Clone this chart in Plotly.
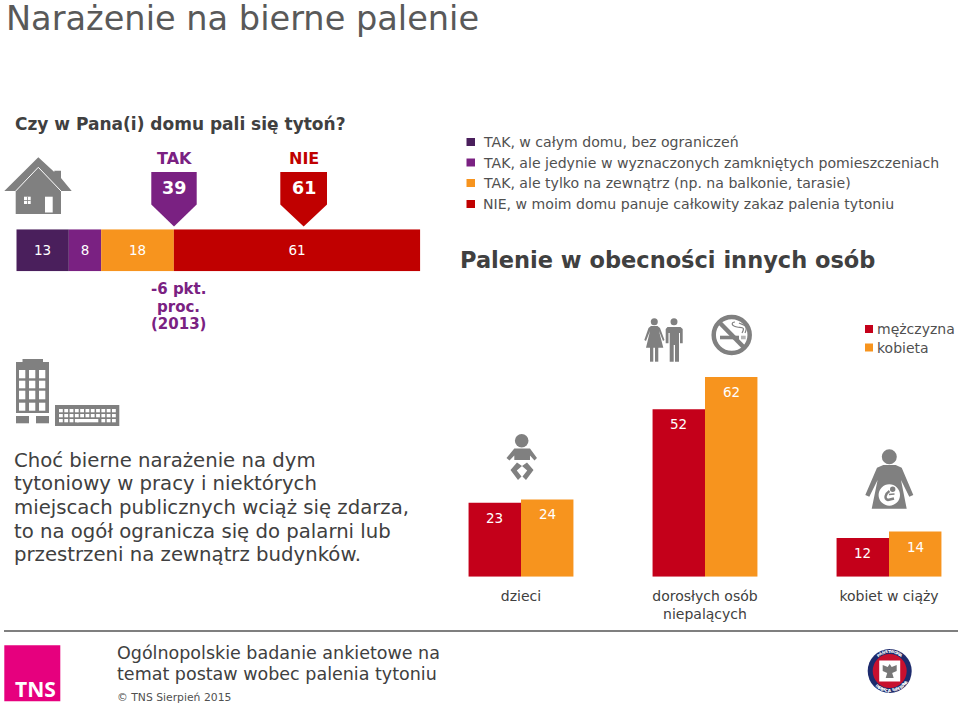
import re
import math
import numpy as np
import plotly.graph_objects as go

W, H = 960, 705

# dane
home_labels = ["TAK, w całym domu, bez ograniczeń",
               "TAK, ale jedynie w wyznaczonych zamkniętych pomieszczeniach",
               "TAK, ale tylko na zewnątrz (np. na balkonie, tarasie)",
               "NIE, w moim domu panuje całkowity zakaz palenia tytoniu"]
home_values = [13, 8, 18, 61]
answer_labels = ["TAK", "NIE"]
answer_values = [39, 61]

groups = ["dzieci", "dorosłych osób<br>niepalących", "kobiet w ciąży"]
men_values = [23, 52, 12]
women_values = [24, 62, 14]
gender_labels = ["mężczyzna", "kobieta"]

paragraph = ["Choć bierne narażenie na dym",
             "tytoniowy w pracy i niektórych",
             "miejscach publicznych wciąż się zdarza,",
             "to na ogół ogranicza się do palarni lub",
             "przestrzeni na zewnątrz budynków."]
footer = ["Ogólnopolskie badanie ankietowe na", "temat postaw wobec palenia tytoniu"]

DARK = "#4a1f5c"
PURPLE = "#7a2182"
ORANGE = "#f7941e"
RED = "#c00000"
RED2 = "#c4001a"
TEXT = "#404040"
ICON = "#808080"
FONT = "DejaVu Sans"
home_colors = [DARK, PURPLE, ORANGE, RED]


def fx(x):
    return x / W


def fy(y):
    return 1 - y / H


def to_paper(path):
    """Ścieżka w pikselach obrazu -> ścieżka w układzie paper."""
    return re.sub(r"(-?[\d.]+)[ ,](-?[\d.]+)",
                  lambda m: f"{fx(float(m[1])):.5f},{fy(float(m[2])):.5f}", path)


shapes = []
annotations = []


def poly(d, color=ICON):
    shapes.append(dict(type="path", xref="paper", yref="paper", path=to_paper(d),
                       fillcolor=color, line=dict(width=0), layer="above"))


def stroke(d, color=ICON, width=1.5):
    shapes.append(dict(type="path", xref="paper", yref="paper", path=to_paper(d),
                       line=dict(color=color, width=width), layer="above"))


def box(x0, y0, x1, y1, color=ICON):
    shapes.append(dict(type="rect", xref="paper", yref="paper", x0=fx(x0), x1=fx(x1),
                       y0=fy(y0), y1=fy(y1), fillcolor=color, line=dict(width=0),
                       layer="above"))


def circle(cx, cy, r, color=ICON, line=None, lw=0):
    shapes.append(dict(type="circle", xref="paper", yref="paper", x0=fx(cx - r), x1=fx(cx + r),
                       y0=fy(cy - r), y1=fy(cy + r), fillcolor=color,
                       line=dict(color=line, width=lw), layer="above"))


def label(x, y, text, size, color=TEXT, bold=False, anchor="left", angle=0):
    annotations.append(dict(xref="paper", yref="paper", x=fx(x), y=fy(y), text=text,
                            showarrow=False, xanchor=anchor, yanchor="middle", textangle=angle,
                            borderpad=0,
                            font=dict(family=FONT, size=size, color=color,
                                      weight="bold" if bold else "normal")))


fig = go.Figure()

# pasek: palenie w domu
base = np.cumsum([0] + home_values[:-1])
for name, val, start, col in zip(home_labels, home_values, base, home_colors):
    fig.add_trace(go.Bar(x=[val], y=[""], base=[start], orientation="h", name=name,
                         width=1, offset=-0.5, marker=dict(color=col, line=dict(width=0)),
                         text=[str(val)], textposition="inside", insidetextanchor="middle",
                         textangle=0, constraintext="none",
                         textfont=dict(family=FONT, size=13.5, color="white"),
                         xaxis="x", yaxis="y", showlegend=False, hoverinfo="x+name"))

# słupki: obecność innych osób
for name, vals, col, off in ((gender_labels[0], men_values, RED2, -0.285),
                             (gender_labels[1], women_values, ORANGE, 0)):
    fig.add_trace(go.Bar(x=groups, y=vals, name=name, width=0.285, offset=off,
                         marker=dict(color=col, line=dict(width=0)),
                         xaxis="x2", yaxis="y2", showlegend=False))
    for g, v in zip(groups, vals):
        annotations.append(dict(xref="x2", yref="y2", x=g, y=v, text=str(v), showarrow=False,
                                xshift=-26.25 if off < 0 else 26.25, yshift=-15,
                                yanchor="middle", font=dict(family=FONT, size=13.5, color="white")))

# nagłówki
label(14, 124, "Czy w Pana(i) domu pali się tytoń?", 17, bold=True)
label(459, 260, "Palenie w obecności innych osób", 22.5, bold=True)

# TAK / NIE
for (x0, x1), name, val, col in zip(((151.3, 196.7), (280.3, 327)), answer_labels, answer_values,
                                    (PURPLE, RED)):
    mid = (x0 + x1) / 2
    poly(f"M{x0} 172 L{x1} 172 L{x1} 204.5 L{mid} 226.5 L{x0} 204.5 Z", col)
    label(mid, 158, name, 16, col, bold=True, anchor="center")
    label(mid, 188, str(val), 17.5, "white", bold=True, anchor="center")

for y, t in zip((289, 306.5, 324), ("-6 pkt.", "proc.", "(2013)")):
    label(178, y, t, 15, PURPLE, bold=True, anchor="center")

# legendy
for y, t, col in zip((142, 162.5, 183, 204), home_labels, home_colors):
    box(466.5, y - 4, 475, y + 4, col)
    label(481.5, y, t, 14.1, "#505050")
for y, t, col in zip((329, 347.5), gender_labels, (RED2, ORANGE)):
    box(865, y - 4, 873, y + 4, col)
    label(875.5, y, t, 14, "#505050")

# akapit i stopka
for y, t in zip((460, 483.5, 507, 531, 554.5), paragraph):
    label(13, y, t, 19.7, "#404040")
for y, t in zip((653, 674), footer):
    label(116, y, t, 17.5, "#404040")
label(116, 697.5, "© TNS Sierpień 2015", 10.8, "#505050")

# linia nad stopką
shapes.append(dict(type="line", xref="paper", yref="paper", x0=fx(4), x1=fx(958),
                   y0=fy(631), y1=fy(631), line=dict(color="#7f7f7f", width=2)))

# logo TNS
box(4.3, 645.3, 60.3, 701.3, "#e6007e")
label(56.5, 689, "TNS", 21, "white", bold=True, anchor="right")
annotations[-1]["font"]["family"] = "Open Sans"

# dom
poly("M38.3 157.3 L54.3 172 L54.3 170.7 L61 170.7 L61 178 L71.7 191 L4.3 191 Z")
poly("M15.7 191 L38.3 167.3 L61 191 L61 214 L15.7 214 Z")
stroke("M15.7 191 L38.3 167.3 L61 191", "white", 1)
box(24, 196.7, 30.7, 204, "white")
box(27, 196.7, 27.8, 204, ICON)
box(24, 200, 30.7, 200.8, ICON)
box(45, 196.7, 52.7, 212.5, "white")

# budynek
box(22.5, 359, 43, 363)
box(16, 362, 49, 413)
box(16, 416, 29, 423.3)
box(36, 416, 49, 423.3)
for y0, y1 in ((370, 378.3), (380.7, 388.3), (390.7, 399.3), (402.7, 410.7)):
    for x0 in (19, 29, 39):
        box(x0, y0, x0 + 6.3, y1, "white")

# klawiatura
box(55, 405, 119.3, 426)
for row, y0 in enumerate((409, 414, 419)):
    for col in range(11):
        if row == 2 and 3 < col < 8:
            continue
        x0 = 59 + col * 5.3
        box(x0, y0, x0 + 3.8, y0 + 3.3, "white")
box(76.7, 419, 98.3, 422.3, "white")

# kobieta i mężczyzna
circle(654.3, 321.7, 3.5)
poly("M651 326 L657.5 326 L660 328 L664.5 340 L663 341 L659 331 L663.3 347.7 L646 347.7 "
     "L650 331 L646 341 L644.3 340 L648.5 328 Z")
box(650, 347, 653.3, 361.7)
box(655, 347, 658.3, 361.7)
circle(674, 321.7, 3.5)
poly("M667.5 327 L680.5 327 L682.7 329 L682.7 343.3 L680 343.3 L680 333 L679 333 L679 361.7 "
     "L675 361.7 L675 345 L673.7 345 L673.7 361.7 L669.7 361.7 L669.7 333 L668.5 333 L668.5 343.3 "
     "L665.7 343.3 L665.7 329 Z")

# zakaz palenia
circle(731.7, 335, 18, "rgba(0,0,0,0)", ICON, 4.5)
stroke("M719 322 L744.5 348", ICON, 4.5)
box(720, 335.7, 739, 339.3)
box(741, 335.7, 745.7, 339.3, "#b5b5b5")
stroke("M742 333 C746 326 741 328 737 327 C731 326 731 322 735 322", ICON, 1.2)
stroke("M745 333 C749 324 742 325 739 323", ICON, 1.2)

# niemowlę
circle(521.7, 440.7, 6.8)
poly("M514.3 448.5 L530 448.5 L537 458 L534.5 460.5 L530 455.5 L530 460 L514.3 460 L514.3 455.5 "
     "L509.5 460.5 L506.5 458 Z")
poly("M517 462.5 L510.5 470 L518 480 L521.5 476.5 L516.8 470.5 L522 466 Z")
poly("M527 462.5 L533.5 470 L526 480 L522.5 476.5 L527.2 470.5 L522 466 Z")

# kobieta w ciąży
circle(889.3, 456.7, 7.5)
poly("M883.3 465 L895.7 465 L901.7 467.7 L913.3 495 L909.3 496.7 L901 480 L906.7 508.7 L871.7 508.7 "
     "L877.6 480 L869.3 496.7 L865.3 495 L877 467.7 Z")
circle(889.3, 495, 10.7, "white")
circle(892.7, 489.3, 2.7)
stroke("M889.5 491 C885 494 884 499 888 500 L894 498.5", ICON, 2.4)
stroke("M889 494.5 L894.5 494", ICON, 1.5)

# godło PIS
cx, cy = 889.7, 671
circle(cx, cy, 22, "#1d2b6d")
circle(cx, cy, 17, "#c8102e")
box(cx - 10.5, cy - 10.5, cx + 10.5, cy + 10.5, "white")
poly(f"M{cx} {cy-7} L{cx+2} {cy-4} L{cx+7} {cy-6} L{cx+7} {cy} L{cx+2.5} {cy+2} L{cx+4} {cy+7} "
     f"L{cx-4} {cy+7} L{cx-2.5} {cy+2} L{cx-7} {cy} L{cx-7} {cy-6} L{cx-2} {cy-4} Z", "#777777")
for word, start, step in (("PAŃSTWOWA", -36, 9), ("INSPEKCJA SANITARNA", 222, -5.4)):
    for n, ch in enumerate(word):
        a = math.radians(start + n * step)
        rot = start + n * step
        label(cx + 19.4 * math.sin(a), cy - 19.4 * math.cos(a), ch, 4, "white", bold=True,
              anchor="center", angle=rot if step > 0 else rot - 180)

fig.update_layout(
    width=W, height=H, autosize=False,
    margin=dict(l=0, r=0, t=0, b=0),
    paper_bgcolor="white", plot_bgcolor="rgba(0,0,0,0)",
    barmode="overlay", showlegend=False,
    font=dict(family=FONT, color=TEXT),
    title=dict(text="Narażenie na bierne palenie", x=fx(6), y=fy(18), xanchor="left", yanchor="middle",
               xref="paper", yref="paper", font=dict(family=FONT, size=33.6, color="#595959")),
    xaxis=dict(domain=[fx(16.3), fx(420.3)], range=[0, 100], visible=False, fixedrange=True),
    yaxis=dict(domain=[fy(271.3), fy(229.3)], visible=False, fixedrange=True, anchor="x"),
    xaxis2=dict(domain=[fx(460), fx(950)], range=[-0.3315, 2.3315], anchor="y2",
                type="category", showgrid=False, showline=False, zeroline=False,
                ticks="outside", ticklen=6, tickcolor="rgba(0,0,0,0)",
                tickfont=dict(family=FONT, size=14, color=TEXT), fixedrange=True),
    yaxis2=dict(domain=[fy(576.7), fy(360)], range=[0, 67.3], anchor="x2", visible=False,
                fixedrange=True),
    shapes=shapes, annotations=annotations,
)

fig.write_html("out.html", config=dict(displayModeBar=False),
               post_script="document.body.style.margin='0';")
